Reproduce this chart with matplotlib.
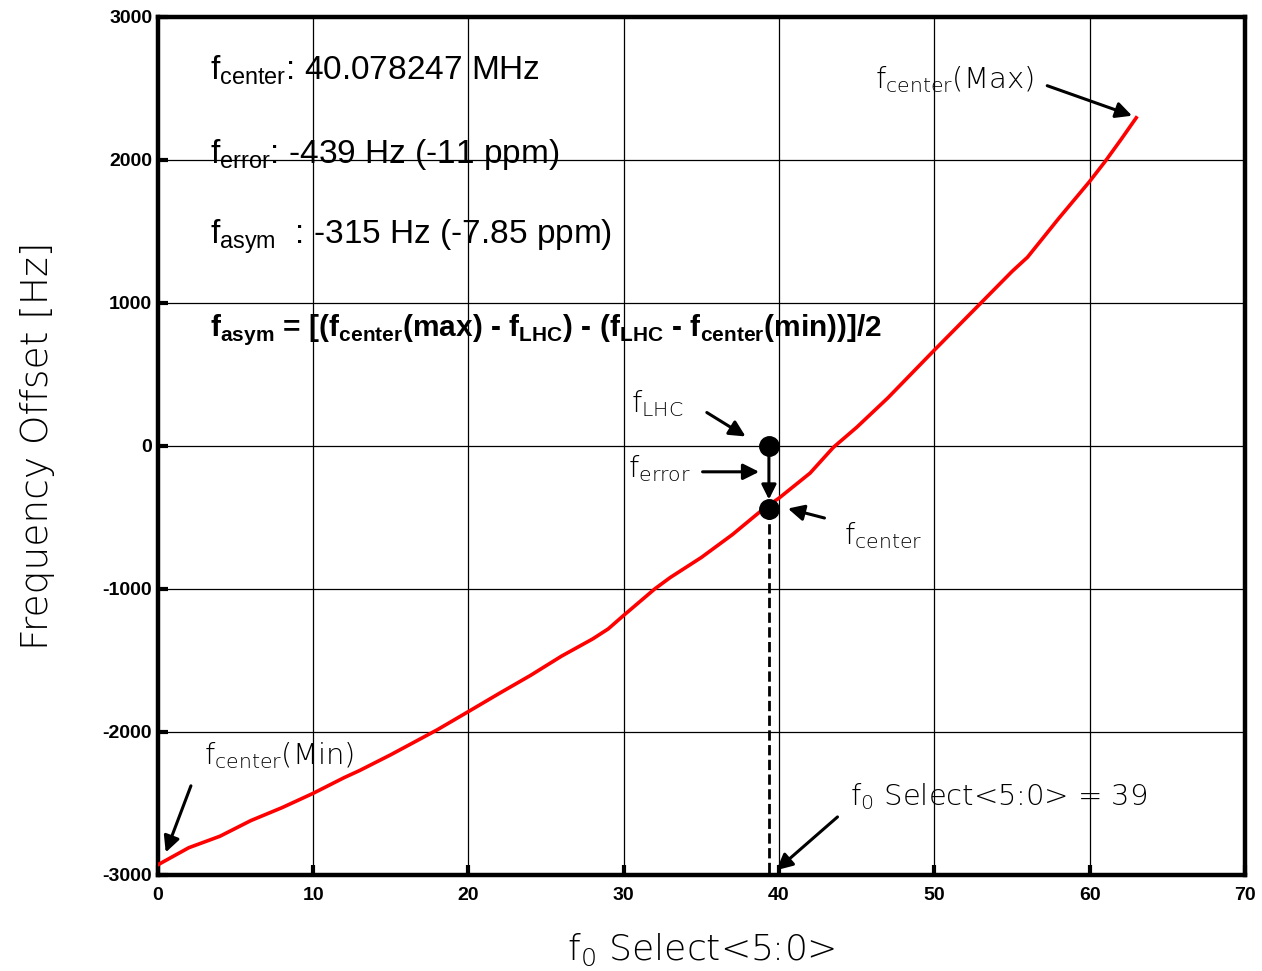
import matplotlib
matplotlib.use('Agg')
import matplotlib.pyplot as plt

# curva medida: f0 Select<5:0> contra desplazamiento de frecuencia
f0_select = [0, 2, 4, 6, 8, 10, 12, 13, 15, 18, 20, 22, 24, 26, 28, 29, 30, 32, 33,
             35, 37, 39, 40, 42, 43.5, 45, 47, 50, 52, 53, 55, 56, 58, 60, 61, 62, 63]
freq_offset = [-2930, -2810, -2730, -2620, -2530, -2430, -2320, -2270, -2160, -1985,
               -1858, -1730, -1605, -1470, -1350, -1280, -1185, -1000, -920, -780,
               -620, -440, -365, -190, -10, 130, 335, 670, 890, 1000, 1220, 1320,
               1590, 1850, 1990, 2140, 2295]

f_lhc = 0
f_error = -439
sel_pos = 39.35
x_ticks = [0, 10, 20, 30, 40, 50, 60, 70]
y_ticks = [-3000, -2000, -1000, 0, 1000, 2000, 3000]

info_lines = [r'f$_{\mathregular{center}}$: 40.078247 MHz',
              r'f$_{\mathregular{error}}$: -439 Hz (-11 ppm)',
              r'f$_{\mathregular{asym}}$  : -315 Hz (-7.85 ppm)']
info_y = [2630, 2037, 1465]
formula = (r'f$_{\mathregular{asym}}$ = [(f$_{\mathregular{center}}$(max) - f$_{\mathregular{LHC}}$)'
           r' - (f$_{\mathregular{LHC}}$ - f$_{\mathregular{center}}$(min))]/2')

plt.rcParams['axes.unicode_minus'] = False
label_font = 'DejaVu Sans'
fig = plt.figure(figsize=(12.62, 9.71), dpi=100)
ax = fig.add_axes([0.125, 0.099, 0.8615, 0.8835])

ax.plot(f0_select, freq_offset, color='red', lw=2.6, zorder=4)

# línea punteada vertical y puntos
ax.plot([sel_pos, sel_pos], [f_error, -3000], color='k', ls='--', lw=2, zorder=5)
ax.plot([sel_pos, sel_pos], [f_lhc, f_error], 'o', color='k', ms=14, zorder=6)
ax.annotate('', xy=(sel_pos, f_error + 45), xytext=(sel_pos, f_lhc - 40),
            arrowprops=dict(arrowstyle='-|>', color='k', lw=2.2, mutation_scale=22), zorder=6)

ax.set_xlim(0, 70)
ax.set_ylim(-3000, 3000)
ax.set_xticks(x_ticks)
ax.set_yticks(y_ticks)
ax.grid(True, color='k', lw=0.9)
ax.set_axisbelow(False)
for s in ax.spines.values():
    s.set_linewidth(3.2)
ax.tick_params(direction='in', length=7, width=3, labelsize=14)
ax.tick_params(axis='x', pad=9)
ax.tick_params(axis='y', pad=4)
for lbl in ax.get_xticklabels() + ax.get_yticklabels():
    lbl.set_fontweight('bold')
    lbl.set_fontfamily('Liberation Sans')

ax.set_xlabel(r'f$_{\mathregular{0}}$ Select<5:0>', fontsize=26, family=label_font,
              fontweight='light', labelpad=20)
ax.set_ylabel('Frequency Offset [Hz]', fontsize=27, family=label_font,
              fontweight='light', labelpad=34)

for txt, yv in zip(info_lines, info_y):
    ax.text(3.35, yv, txt, fontsize=24, family='Liberation Sans', va='center', zorder=1)
ax.text(3.35, 816, formula, fontsize=21.5, family='Liberation Sans', fontweight='bold',
        va='center', zorder=1)

arrow = dict(arrowstyle='-|>', color='k', lw=2.2, mutation_scale=24)
notes = [
    (r'f$_{\mathregular{center}}$(Max)', (46.2, 2561), (57.1, 2526), (62.9, 2303)),
    (r'f$_{\mathregular{LHC}}$', (30.5, 293), (35.2, 244), (38.0, 56)),
    (r'f$_{\mathregular{error}}$', (30.3, -160), (34.9, -181), (38.9, -181)),
    (r'f$_{\mathregular{center}}$', (44.2, -628), (43.1, -509), (40.4, -433)),
    (r'f$_{\mathregular{center}}$(Min)', (3.0, -2163), (2.2, -2359), (0.45, -2861)),
    (r'f$_{\mathregular{0}}$ Select<5:0> = 39', (44.6, -2456), (43.9, -2582), (39.7, -2980)),
]
for txt, pos, start, end in notes:
    ax.text(pos[0], pos[1], txt, fontsize=21, family=label_font, fontweight='light',
            va='center', zorder=7)
    ax.annotate('', xy=end, xytext=start, arrowprops=arrow, zorder=7)

fig.savefig('out.png', dpi=100)
